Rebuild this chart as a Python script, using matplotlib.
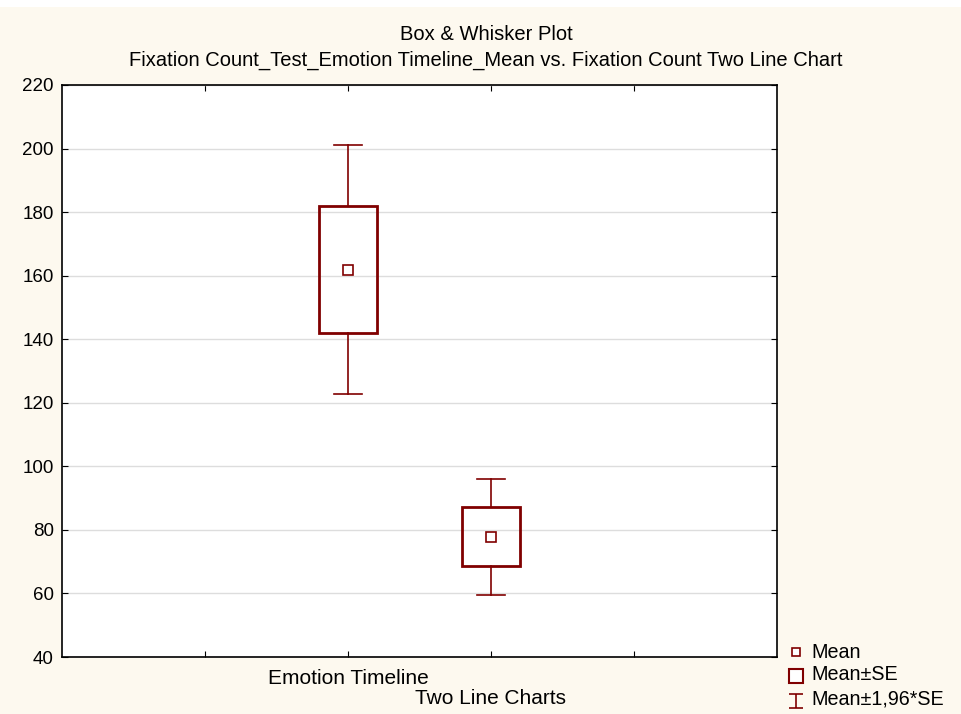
import matplotlib
matplotlib.use("Agg")
import matplotlib.pyplot as plt
from matplotlib.patches import Rectangle
from matplotlib.path import Path
from matplotlib.transforms import blended_transform_factory

plt.rcParams['font.family'] = ['Liberation Sans', 'DejaVu Sans']

# group means and standard errors
groups = ["Emotion Timeline", "Two Line Charts"]
means = [161.9, 77.8]
se = [20.0, 9.3]
z = 1.96

dark_red = "#800000"
bg = "#FDF9EF"

W, H = 962, 714
fig = plt.figure(figsize=(W / 100, H / 100), dpi=100, facecolor=bg)
# thin white strip along the top edge
fig.add_artist(Rectangle((0, 1 - 7 / H), 1, 7 / H, transform=fig.transFigure,
                         facecolor="white", edgecolor="none"))
ax = fig.add_axes([62 / W, 1 - 657 / H, 715 / W, 572 / H])
ax.set_facecolor("white")

pos = [2, 3]
box_w = 0.4
cap_w = 0.2
for x, m, s in zip(pos, means, se):
    lo, hi = m - z * s, m + z * s
    ax.plot([x, x], [lo, m - s], color=dark_red, lw=1.2, zorder=3)
    ax.plot([x, x], [m + s, hi], color=dark_red, lw=1.2, zorder=3)
    ax.plot([x - cap_w / 2, x + cap_w / 2], [lo, lo], color=dark_red, lw=1.2, zorder=3)
    ax.plot([x - cap_w / 2, x + cap_w / 2], [hi, hi], color=dark_red, lw=1.2, zorder=3)
    ax.add_patch(Rectangle((x - box_w / 2, m - s), box_w, 2 * s, fill=False,
                           edgecolor=dark_red, lw=2, zorder=3))
    ax.plot(x, m, marker="s", ms=6.5, mfc="white", mec=dark_red, mew=1.2, zorder=4)

ax.set_xlim(0, 5)
ax.set_ylim(40, 220)
ax.set_yticks(range(40, 221, 20))
ax.set_xticks([1, 2, 3, 4])
ax.set_xticklabels([])
ax.tick_params(direction="in", top=True, right=True, length=4, labelsize=13.5,
               color="black", pad=6)
# category labels are staggered on two rows
xfig = blended_transform_factory(ax.transData, fig.transFigure)
ax.text(pos[0], 1 - 678 / H, groups[0], transform=xfig,
        ha="center", va="center", fontsize=15)
ax.text(pos[1], 1 - 698 / H, groups[1], transform=xfig,
        ha="center", va="center", fontsize=15)
ax.yaxis.grid(True, color="#dddddd", lw=1)
ax.set_axisbelow(True)
for sp in ax.spines.values():
    sp.set_linewidth(1.2)

fig.text(486 / W, 1 - 34 / H, "Box & Whisker Plot", ha="center", va="center", fontsize=14.5)
fig.text(486 / W, 1 - 60 / H,
         "Fixation Count_Test_Emotion Timeline_Mean vs. Fixation Count Two Line Chart",
         ha="center", va="center", fontsize=14.5)

# legend drawn in figure pixels
ibeam = Path([(-1, -1), (1, -1), (0, -1), (0, 1), (-1, 1), (1, 1)],
             [Path.MOVETO, Path.LINETO, Path.MOVETO, Path.LINETO, Path.MOVETO, Path.LINETO])
legend_items = [("Mean", dict(marker="s", ms=6, mew=1.2), 652, 652),
                ("Mean±SE", dict(marker="s", ms=10, mew=1.5), 676, 675),
                ("Mean±1,96*SE", dict(marker=ibeam, ms=10.5, mew=1.2), 701, 699)]
for label, style, ym, yt in legend_items:
    fig.add_artist(plt.Line2D([796 / W], [1 - ym / H], ls="none", mfc="white",
                              mec=dark_red, transform=fig.transFigure, **style))
    fig.text(811 / W, 1 - yt / H, label, ha="left", va="center", fontsize=14.2)

fig.savefig("out.png", dpi=100, facecolor=bg)
